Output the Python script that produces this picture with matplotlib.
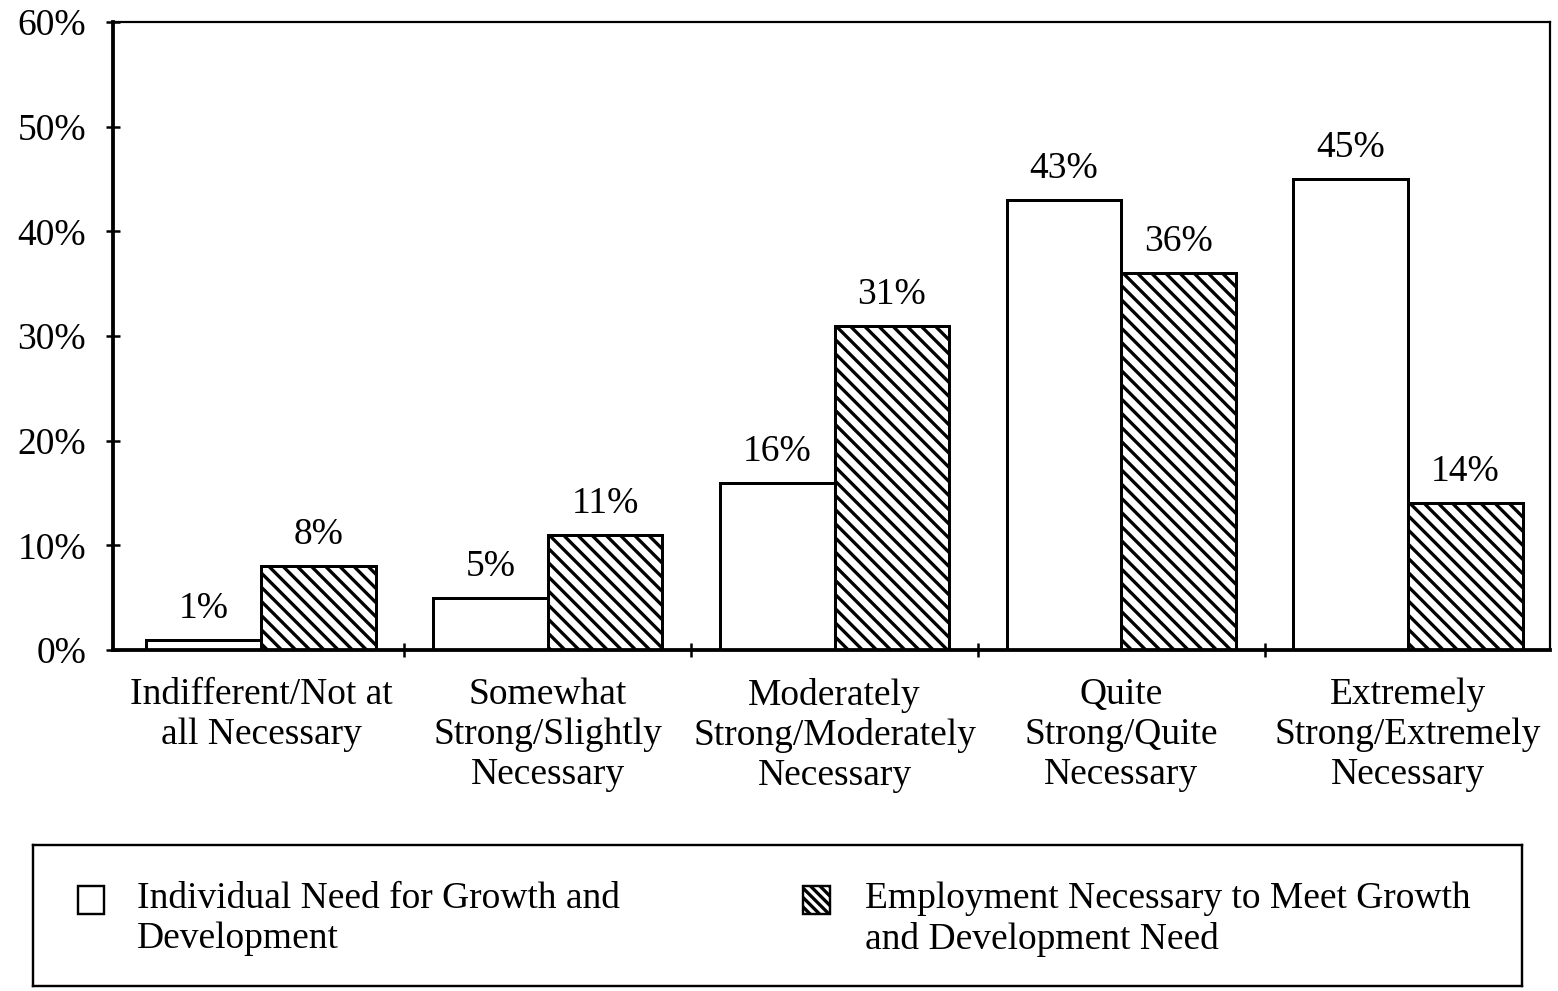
import matplotlib
matplotlib.use("Agg")
import matplotlib.pyplot as plt
from matplotlib.patches import Rectangle
import numpy as np

categories = [
    "Indifferent/Not at\nall Necessary",
    "Somewhat\nStrong/Slightly\nNecessary",
    "Moderately\nStrong/Moderately\nNecessary",
    "Quite\nStrong/Quite\nNecessary",
    "Extremely\nStrong/Extremely\nNecessary",
]
individual = [1, 5, 16, 43, 45]
employment = [8, 11, 31, 36, 14]
series_labels = [
    "Individual Need for Growth and\nDevelopment",
    "Employment Necessary to Meet Growth\nand Development Need",
]
y_ticks = [0, 10, 20, 30, 40, 50, 60]

# dpi 85 so the hatch spacing comes out close to the scan (~7px)
DPI = 85
P = 72 / DPI  # points per pixel

plt.rcParams['font.family'] = ['Liberation Serif', 'DejaVu Serif']
plt.rcParams['hatch.linewidth'] = 3.3 * P
FS = 37.5 * P

W, H = 1558, 991
fig = plt.figure(figsize=(W / DPI, H / DPI), dpi=DPI)
ax = fig.add_axes([113 / W, 1 - 650 / H, (1550 - 113) / W, (650 - 22) / H])

x = np.arange(len(categories))
bw = 0.4
b1 = ax.bar(x - bw / 2, individual, bw, color='white', edgecolor='black', linewidth=3 * P)
b2 = ax.bar(x + bw / 2, employment, bw, color='white', edgecolor='black', linewidth=3 * P,
            hatch='\\\\')

for bars, vals in ((b1, individual), (b2, employment)):
    for rect, v in zip(bars, vals):
        ax.annotate(f"{v}%", (rect.get_x() + rect.get_width() / 2, v),
                    xytext=(0, 14 * P), textcoords='offset points',
                    ha='center', va='bottom', fontsize=FS)

ax.set_xlim(-0.516, 4.495)
ax.set_ylim(0, 60)
ax.set_yticks(y_ticks)
ax.set_yticklabels([f"{t}%" for t in y_ticks], fontsize=FS)
ax.set_xticks(x)
ax.set_xticklabels(categories, fontsize=FS, linespacing=1.2)
ax.set_xticks(x[:-1] + 0.5, minor=True)
ax.tick_params(axis='x', which='major', length=0, pad=28 * P)
ax.tick_params(axis='x', which='minor', direction='inout', length=14 * P, width=2.5 * P)
ax.tick_params(axis='y', direction='inout', length=14 * P, width=2.5 * P, pad=20 * P)

for side in ('left', 'bottom'):
    ax.spines[side].set_linewidth(3.8 * P)
for side in ('top', 'right'):
    ax.spines[side].set_linewidth(2.2 * P)

# legend box
lg = fig.add_axes([33 / W, 5 / H, (1522 - 33) / W, 141 / H])
lg.set_xlim(0, 1)
lg.set_ylim(0, 1)
lg.set_xticks([])
lg.set_yticks([])
for s in lg.spines.values():
    s.set_linewidth(2.4 * P)

lg.add_patch(Rectangle((0.030, 0.51), 0.018, 0.2, facecolor='white',
                       edgecolor='black', linewidth=2.4 * P))
lg.add_patch(Rectangle((0.517, 0.51), 0.018, 0.2, facecolor='white',
                       edgecolor='black', linewidth=2.4 * P, hatch='\\\\\\'))
lg.text(0.070, 0.74, series_labels[0], fontsize=FS, va='top', ha='left', linespacing=1.2)
lg.text(0.559, 0.74, series_labels[1], fontsize=FS, va='top', ha='left', linespacing=1.2)

fig.savefig("out.png", dpi=DPI)
